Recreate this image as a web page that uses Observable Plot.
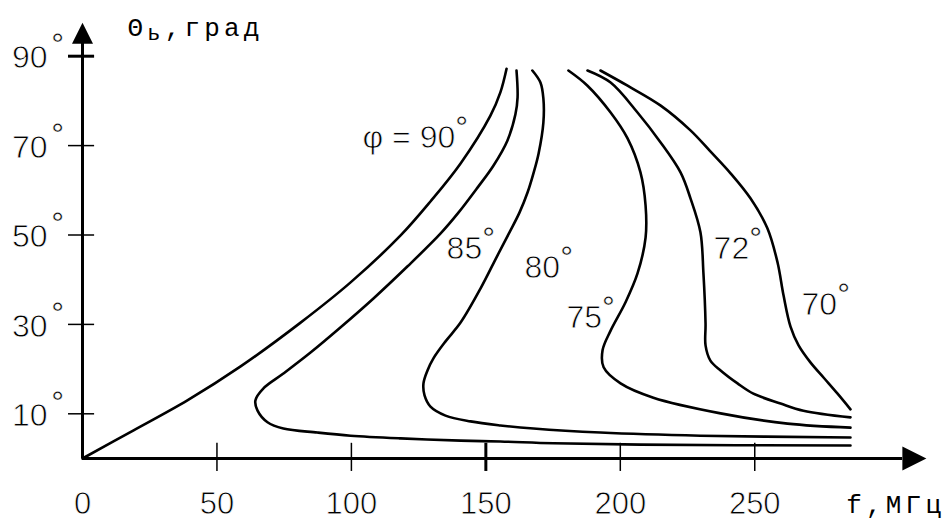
<!DOCTYPE html>
<html><head><meta charset="utf-8">
<script src="https://cdn.jsdelivr.net/npm/d3@7"></script>
<script src="https://cdn.jsdelivr.net/npm/@observablehq/plot@0.6"></script>
<style>
html,body{margin:0;padding:0;background:#fff;}
#chart svg{display:block;overflow:hidden}
g[font-family*="Sans"] text{stroke:#fff;stroke-width:0.8px;paint-order:normal;stroke-linejoin:round}
g[font-family*="Mono"] text{letter-spacing:4.2px}
</style></head><body><div id="chart"></div>
<script>
// curves: [f (MHz), theta (deg)]
const curve90 = [[0,0],[19.0,6.3],[39.0,13.0],[58.8,20.6],[81.1,30.4],[99.7,39.4],[118.3,49.9],[129.4,57.5],[140.6,66.0],[151.7,76.7],[155.4,81.9],[157.7,87.2]];
const curve85 = [[285.6,2.9],[207.5,3.1],[175.2,3.4],[155.4,3.8],[140.6,4.0],[118.3,4.5],[99.7,5.1],[87.4,5.8],[74.7,6.7],[68.8,8.1],[65.1,10.7],[64.3,13.0],[67.3,15.7],[74.7,19.0],[84.8,23.7],[95.9,29.3],[108.2,35.8],[120.9,43.0],[133.1,50.3],[139.8,55.0],[146.9,60.6],[152.8,65.5],[158.0,71.1],[161.0,77.0],[161.8,80.8],[161.4,86.8]];
const curve80 = [[285.6,4.7],[229.8,5.1],[192.6,5.8],[167.7,6.7],[155.4,7.4],[144.3,8.3],[135.0,9.6],[129.4,11.6],[127.2,14.1],[126.8,16.8],[128.3,19.7],[130.5,22.4],[135.0,26.2],[140.6,30.4],[148.0,38.0],[154.3,45.4],[158.8,50.6],[162.5,55.0],[165.5,59.5],[167.7,63.8],[169.6,68.2],[171.4,75.2],[171.4,80.5],[170.3,84.1],[167.3,86.8]];
const curve75 = [[285.6,6.9],[262.2,7.8],[237.3,10.1],[212.3,13.6],[200.1,16.8],[193.8,20.4],[193.4,24.2],[196.4,28.6],[201.9,34.9],[206.4,41.4],[209.4,49.4],[209.4,56.6],[207.5,64.0],[202.7,71.6],[196.4,77.4],[187.8,83.4],[180.7,86.8]];
const curve72 = [[285.6,9.2],[268.1,10.7],[259.6,12.3],[249.5,14.5],[243.6,16.8],[237.3,19.7],[233.5,21.9],[231.7,25.3],[231.7,30.2],[230.9,41.6],[229.8,50.6],[226.1,58.2],[222.4,64.0],[215.0,70.7],[206.4,77.4],[196.4,84.1],[187.8,86.8]];
const curve70 = [[285.6,11.0],[280.8,14.5],[275.9,17.9],[270.7,21.5],[266.3,25.3],[263.3,29.5],[260.7,36.5],[258.5,43.8],[254.7,51.5],[248.4,58.2],[241.0,63.8],[233.5,68.7],[226.1,73.4],[214.9,79.0],[202.7,83.4],[192.6,86.8]];
const curves = [curve90, curve85, curve80, curve75, curve72, curve70];

const curveLabels = ["φ = 90°", "85°", "80°", "75°", "72°", "70°"];
const labelPos = [[104.1,69.4],[135.4,44.7],[164.4,40.3],[180.0,29.1],[234.7,44.7],[267.4,32.0]];

const xTicks = [0, 50, 100, 150, 200, 250];
const yTicks = [10, 30, 50, 70, 90];
const xTitle = "f,МГц";
const yTitle = "Θь,град";

const sans = "Liberation Sans, Arial, sans-serif";
const mono = "Liberation Mono, Courier New, monospace";

const arrow = {draw(ctx, size) {
  const r = Math.sqrt(size / Math.PI);
  ctx.moveTo(0, -r); ctx.lineTo(r / 2, 0); ctx.lineTo(-r / 2, 0); ctx.closePath();
}};

const labels = curveLabels.map((text, i) => ({text, f: labelPos[i][0], t: labelPos[i][1]}));

const svg = Plot.plot({
  width: 949, height: 522,
  x: {domain: [0, 250], range: [82, 754.25], axis: null},
  y: {domain: [0, 90], range: [458, 55.7], axis: null},
  marks: [
    // axes
    Plot.ruleY([0], {x1: 0, x2: 305, stroke: "black", strokeWidth: 3}),
    Plot.ruleX([0], {y1: 0, y2: 93.5, stroke: "black", strokeWidth: 3}),
    Plot.dot([0], {x: 0, y: 92.8, r: 21, symbol: arrow, fill: "black", stroke: "none"}),
    Plot.dot([0], {x: 304.9, y: 0, r: 24, symbol: arrow, rotate: 90, fill: "black", stroke: "none"}),
    // ticks
    Plot.ruleX(xTicks.filter(d => d > 0), {x: d => d, y1: 3.4, y2: -2.9, stroke: "black", strokeWidth: d => d === 150 ? 3 : 1.5}),
    Plot.ruleY(yTicks, {y: d => d, x1: -5.2, x2: 4.5, stroke: "black", strokeWidth: d => d === 90 ? 3 : 1.5}),
    // tick labels
    Plot.text(xTicks, {x: d => d, y: -12.5, text: d => String(d), textAnchor: "middle", lineAnchor: "bottom", fontFamily: sans, fontSize: 31, fill: "black"}),
    Plot.text(yTicks, {x: -13, y: d => d, text: d => String(d), textAnchor: "end", lineAnchor: "middle", dy: 2, fontFamily: sans, fontSize: 32, fill: "black"}),
    Plot.text(yTicks, {x: -11.6, y: d => d, text: () => "°", textAnchor: "start", lineAnchor: "middle", dy: -11, fontFamily: "Arial, Liberation Sans, sans-serif", fontSize: 32, fill: "black"}),
    // curves
    ...curves.map(c => Plot.line(c, {x: d => d[0], y: d => d[1], curve: "catmull-rom", stroke: "black", strokeWidth: 2.6})),
    // curve labels
    Plot.text(labels, {x: "f", y: "t", text: "text", textAnchor: "start", lineAnchor: "bottom", fontFamily: sans, fontSize: 32, fill: "black"}),
    // axis titles
    Plot.text([xTitle], {x: 284.0, y: -12.3, text: d => d, textAnchor: "start", lineAnchor: "bottom", fontFamily: mono, fontSize: 26, fill: "black"}),
    Plot.text([yTitle], {x: 16.7, y: 94.6, text: d => d, textAnchor: "start", lineAnchor: "bottom", fontFamily: mono, fontSize: 26, fill: "black"})
  ]
});

const NS = "http://www.w3.org/2000/svg";
function tspan(txt, attrs) {
  const t = document.createElementNS(NS, "tspan");
  t.textContent = txt;
  for (const k in attrs) t.setAttribute(k, attrs[k]);
  return t;
}
svg.querySelectorAll("text").forEach(el => {
  const s = el.textContent;
  if (s === yTitle) {
    el.textContent = "Θ";
    el.appendChild(tspan("ь", {"font-size": 22, dy: 4}));
    el.appendChild(tspan(",град", {dy: -4}));
  } else if (s.length > 1 && s.endsWith("°")) {
    el.textContent = s.slice(0, -1);
    el.appendChild(tspan("°", {dy: -10, style: "stroke-width:0.4px"}));
  } else if (s === "°") {
    el.style.strokeWidth = "0.4px";
  }
});
document.getElementById("chart").appendChild(svg);
</script></body></html>
